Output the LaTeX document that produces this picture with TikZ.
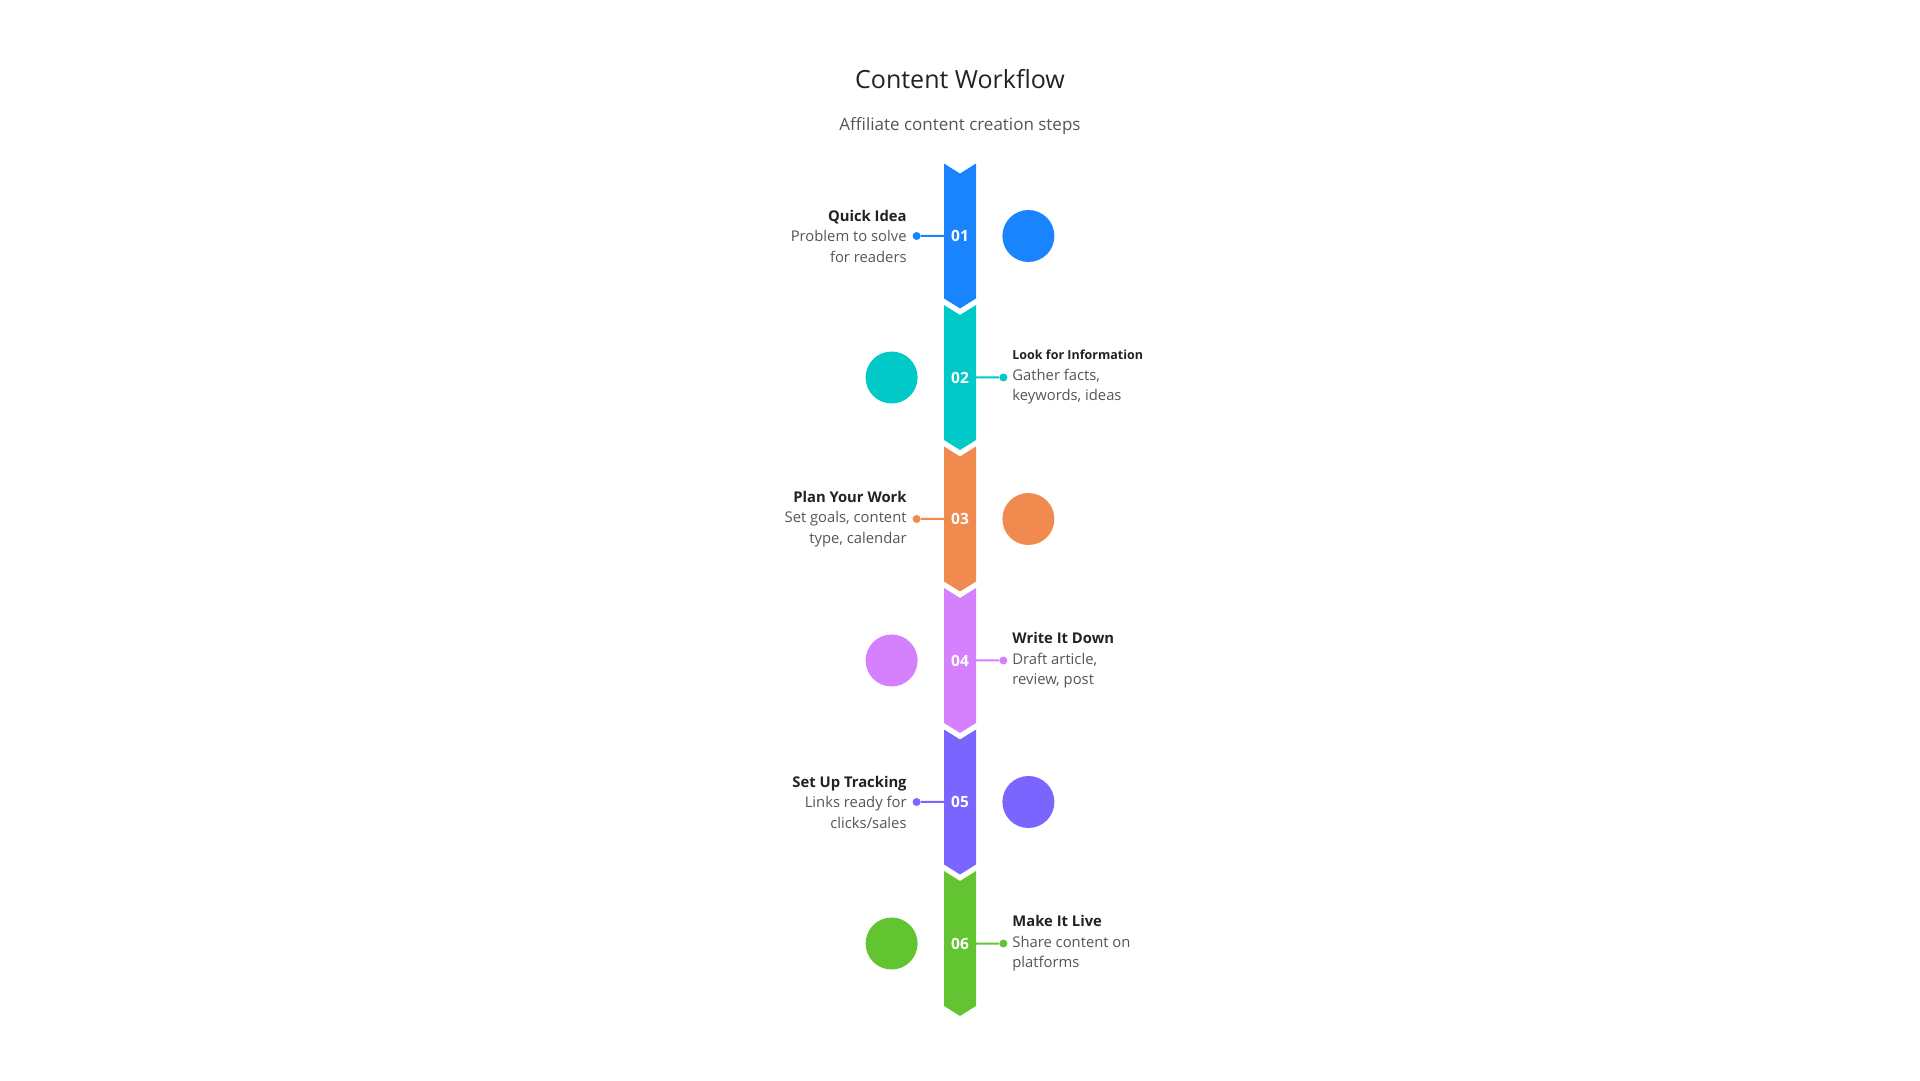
\documentclass[tikz,border=0pt]{standalone}
\usepackage{fontspec}
\setmainfont{Open Sans}
\usetikzlibrary{positioning,shapes.symbols}

\definecolor{stepblue}{HTML}{1A84FF}
\definecolor{stepteal}{HTML}{00C9C8}
\definecolor{steporange}{HTML}{F08A4E}
\definecolor{stepviolet}{HTML}{D580FC}
\definecolor{steppurple}{HTML}{7A66FF}
\definecolor{stepgreen}{HTML}{62C431}
\definecolor{headtext}{HTML}{222222}
\definecolor{bodytext}{HTML}{555555}

\tikzset{
  stepbar/.style={signal, signal from=north, signal to=south, signal pointer angle=116,
    minimum width=32pt, minimum height=136pt, inner sep=0pt, text=white,
    font=\fontsize{15.5}{18}\selectfont\bfseries},
  stepdisc/.style={circle, minimum size=52pt, inner sep=0pt},
  stepdot/.style={circle, minimum size=8pt, inner sep=0pt},
  stepnote/.style={inner sep=0pt, text=bodytext, font=\fontsize{14.8}{20.5}\selectfont},
  stephead/.style={text=headtext},
  stepline/.style={line width=2pt},
}

\begin{document}
\begin{tikzpicture}[x=1pt, y=1pt, node distance=141.5pt]
      \useasboundingbox (0,0) rectangle (1920,1080);
      \node [anchor=base, text=headtext, font=\fontsize{25}{30}\selectfont] (title) at (960,991) {Content Workflow};
      \node [anchor=base, text=bodytext, font=\fontsize{17}{20}\selectfont] (subtitle) at (960,949) {Affiliate content creation steps};

      % bar segments
      \node [stepbar, fill=stepblue] (st1) at (960,844) {01};
      \node [stepbar, fill=stepteal] (st2) [below of=st1] {02};
      \node [stepbar, fill=steporange] (st3) [below of=st2] {03};
      \node [stepbar, fill=stepviolet] (st4) [below of=st3] {04};
      \node [stepbar, fill=steppurple] (st5) [below of=st4] {05};
      \node [stepbar, fill=stepgreen] (st6) [below of=st5] {06};

      % discs
      \node [stepdisc, fill=stepblue] (ci1) [right=26pt of st1] {};
      \node [stepdisc, fill=stepteal] (ci2) [left=26pt of st2] {};
      \node [stepdisc, fill=steporange] (ci3) [right=26pt of st3] {};
      \node [stepdisc, fill=stepviolet] (ci4) [left=26pt of st4] {};
      \node [stepdisc, fill=steppurple] (ci5) [right=26pt of st5] {};
      \node [stepdisc, fill=stepgreen] (ci6) [left=26pt of st6] {};

      % dots
      \node [stepdot, fill=stepblue] (dt1) [left=23pt of st1] {};
      \node [stepdot, fill=stepteal] (dt2) [right=23pt of st2] {};
      \node [stepdot, fill=steporange] (dt3) [left=23pt of st3] {};
      \node [stepdot, fill=stepviolet] (dt4) [right=23pt of st4] {};
      \node [stepdot, fill=steppurple] (dt5) [left=23pt of st5] {};
      \node [stepdot, fill=stepgreen] (dt6) [right=23pt of st6] {};

      % notes
      \node [stepnote, align=right] (tx1) [left=37pt of st1]
        {\textcolor{headtext}{\bfseries Quick Idea}\\Problem to solve\\for readers};
      \node [stepnote, align=left] (tx2) [right=36pt of st2]
        {\textcolor{headtext}{\fontsize{12.5}{20.5}\selectfont\bfseries Look for Information}\\Gather facts,\\keywords, ideas};
      \node [stepnote, align=right] (tx3) [left=37pt of st3]
        {\textcolor{headtext}{\bfseries Plan Your Work}\\Set goals, content\\type, calendar};
      \node [stepnote, align=left] (tx4) [right=36pt of st4]
        {\textcolor{headtext}{\bfseries Write It Down}\\Draft article,\\review, post};
      \node [stepnote, align=right] (tx5) [left=37pt of st5]
        {\textcolor{headtext}{\bfseries Set Up Tracking}\\Links ready for\\clicks/sales};
      \node [stepnote, align=left] (tx6) [right=36pt of st6]
        {\textcolor{headtext}{\bfseries Make It Live}\\Share content on\\platforms};

      \path [stepline]
      (st1) edge [stepblue] (dt1)
      (st2) edge [stepteal] (dt2)
      (st3) edge [steporange] (dt3)
      (st4) edge [stepviolet] (dt4)
      (st5) edge [steppurple] (dt5)
      (st6) edge [stepgreen] (dt6)
      ;
\end{tikzpicture}
\end{document}
